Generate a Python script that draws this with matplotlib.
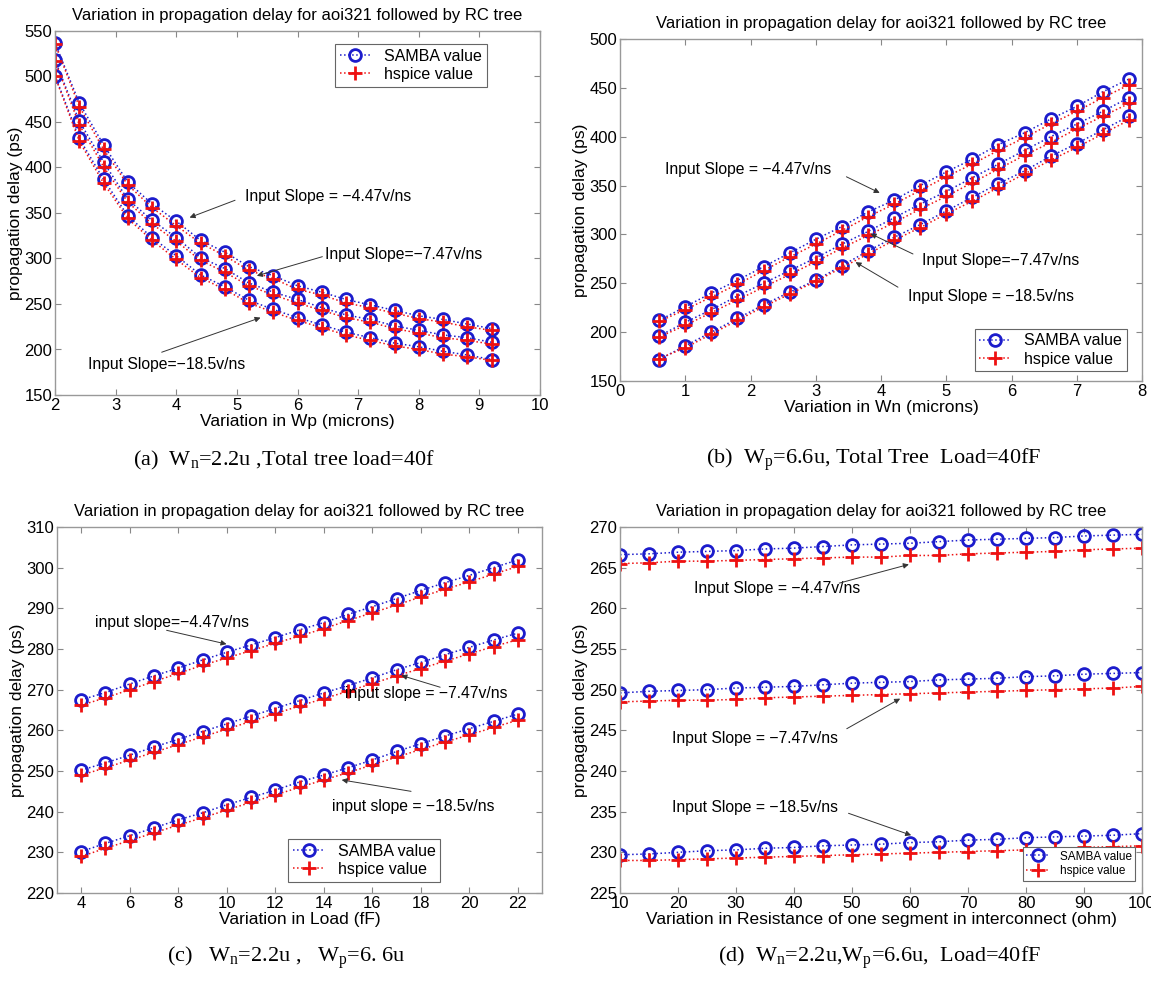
import matplotlib
matplotlib.use("Agg")
import matplotlib.pyplot as plt

plt.rcParams['font.family'] = ['Liberation Sans', 'DejaVu Sans']
plt.rcParams['mathtext.fontset'] = 'custom'
plt.rcParams['mathtext.rm'] = 'Liberation Serif'

TITLE = 'Variation in propagation delay for aoi321 followed by RC tree'

# (a) variation in Wp
wp = [2.0, 2.4, 2.8, 3.2, 3.6, 4.0, 4.4, 4.8, 5.2, 5.6, 6.0, 6.4, 6.8, 7.2, 7.6, 8.0, 8.4, 8.8, 9.2]
a_samba_447 = [537, 471, 425, 384, 360, 341, 320, 307, 291, 281, 270, 263, 255, 249, 243, 237, 233, 228, 223]
a_samba_747 = [518, 451, 406, 365, 342, 323, 301, 289, 273, 263, 255, 246, 238, 233, 226, 221, 216, 213, 208]
a_samba_185 = [501, 432, 387, 347, 323, 303, 282, 269, 254, 244, 235, 227, 219, 213, 207, 203, 198, 194, 189]
a_hspice_447 = [536, 467, 420, 381, 356, 336, 317, 303, 287, 278, 266, 260, 251, 246, 240, 234, 230, 225, 221]
a_hspice_747 = [517, 447, 401, 362, 338, 319, 298, 285, 270, 260, 251, 243, 235, 230, 223, 218, 213, 210, 206]
a_hspice_185 = [500, 429, 383, 344, 320, 299, 279, 266, 251, 241, 232, 224, 216, 210, 204, 200, 195, 192, 188]

# (b) variation in Wn
wn = [0.6, 1.0, 1.4, 1.8, 2.2, 2.6, 3.0, 3.4, 3.8, 4.2, 4.6, 5.0, 5.4, 5.8, 6.2, 6.6, 7.0, 7.4, 7.8]
b_samba_447 = [212, 226, 240, 253, 267, 281, 295, 308, 323, 335, 350, 364, 377, 392, 404, 418, 431, 446, 459]
b_samba_747 = [196, 210, 223, 237, 250, 263, 276, 290, 303, 317, 331, 344, 358, 372, 386, 400, 413, 426, 440]
b_samba_185 = [172, 186, 200, 214, 228, 241, 253, 268, 283, 297, 310, 324, 338, 352, 365, 380, 393, 407, 421]
b_hspice_447 = [211, 223, 236, 249, 263, 277, 290, 304, 318, 331, 345, 359, 372, 386, 399, 413, 426, 440, 453]
b_hspice_747 = [195, 207, 220, 233, 246, 259, 272, 286, 299, 312, 326, 339, 353, 367, 381, 394, 408, 421, 434]
b_hspice_185 = [173, 184, 198, 212, 226, 239, 252, 266, 280, 294, 307, 321, 334, 348, 362, 376, 389, 403, 417]

# (c) variation in load
load = [4, 5, 6, 7, 8, 9, 10, 11, 12, 13, 14, 15, 16, 17, 18, 19, 20, 21, 22]
c_samba_447 = [267.5, 269.3, 271.4, 273.4, 275.3, 277.3, 279.2, 281.0, 282.8, 284.7, 286.5, 288.5, 290.4, 292.4, 294.4, 296.3, 298.1, 300.0, 301.9]
c_samba_747 = [250.2, 252.0, 253.9, 255.9, 257.8, 259.7, 261.6, 263.5, 265.4, 267.3, 269.2, 271.0, 272.9, 274.9, 276.7, 278.6, 280.4, 282.2, 283.9]
c_samba_185 = [230.2, 232.2, 234.1, 236.0, 238.0, 239.7, 241.7, 243.5, 245.3, 247.3, 249.0, 250.8, 252.7, 254.8, 256.7, 258.6, 260.4, 262.2, 264.0]
c_hspice_447 = [266.2, 268.0, 270.0, 272.0, 274.0, 276.0, 277.8, 279.6, 281.4, 283.2, 285.0, 287.0, 288.9, 290.8, 292.8, 294.7, 296.5, 298.4, 300.3]
c_hspice_747 = [249.0, 250.8, 252.7, 254.6, 256.5, 258.4, 260.3, 262.2, 264.1, 266.0, 267.8, 269.6, 271.5, 273.4, 275.2, 277.0, 278.8, 280.6, 282.3]
c_hspice_185 = [229.0, 231.0, 232.9, 234.8, 236.7, 238.5, 240.4, 242.3, 244.1, 246.0, 247.8, 249.6, 251.5, 253.4, 255.3, 257.1, 258.9, 260.7, 262.5]

# (d) variation in segment resistance
res = [10, 15, 20, 25, 30, 35, 40, 45, 50, 55, 60, 65, 70, 75, 80, 85, 90, 95, 100]
d_samba_447 = [266.6, 266.7, 266.9, 267.0, 267.1, 267.3, 267.4, 267.6, 267.8, 267.9, 268.0, 268.2, 268.4, 268.5, 268.6, 268.7, 268.9, 269.0, 269.1]
d_samba_747 = [249.6, 249.8, 249.9, 250.0, 250.2, 250.3, 250.4, 250.6, 250.8, 250.9, 251.0, 251.2, 251.3, 251.4, 251.6, 251.7, 251.9, 252.0, 252.1]
d_samba_185 = [229.7, 229.8, 230.0, 230.2, 230.3, 230.5, 230.6, 230.8, 230.9, 231.0, 231.2, 231.3, 231.5, 231.6, 231.8, 231.9, 232.0, 232.1, 232.3]
d_hspice_447 = [265.5, 265.6, 265.8, 265.8, 265.9, 266.0, 266.1, 266.2, 266.3, 266.3, 266.5, 266.5, 266.7, 266.8, 266.9, 267.0, 267.2, 267.3, 267.4]
d_hspice_747 = [248.5, 248.6, 248.7, 248.7, 248.8, 249.0, 249.1, 249.2, 249.3, 249.4, 249.5, 249.6, 249.7, 249.8, 249.9, 250.0, 250.1, 250.2, 250.4]
d_hspice_185 = [229.0, 229.0, 229.1, 229.2, 229.3, 229.4, 229.5, 229.6, 229.7, 229.8, 229.9, 230.0, 230.1, 230.2, 230.3, 230.4, 230.6, 230.7, 230.8]

W, H = 1151, 988
fig = plt.figure(figsize=(W / 100, H / 100), dpi=100)


def make_axes(left, top, right, bottom):
    return fig.add_axes([left / W, 1 - bottom / H, (right - left) / W, (bottom - top) / H])


def panel(ax, x, samba, hspice, xlabel, xlim, xticks, ylim, yticks, notes, leg_loc, leg_anchor, leg_size=11.5):
    for i, (s, h) in enumerate(zip(samba, hspice)):
        ax.plot(x, s, ':', color='#1c1ccc', lw=1.1, marker='o', ms=8.5, mfc='none',
                mec='#1c1ccc', mew=2.0, label='SAMBA value' if i == 0 else None)
        ax.plot(x, h, ':', color='#ee1111', lw=1.1, marker='+', ms=10, mew=2.0,
                mec='#ee1111', label='hspice value' if i == 0 else None)
    ax.set_xlim(*xlim)
    ax.set_ylim(*ylim)
    ax.set_xticks(xticks)
    ax.set_yticks(yticks)
    ax.tick_params(direction='in', top=True, right=True, length=4, width=0.8,
                   color='#888888', labelsize=12, pad=2)
    for sp in ax.spines.values():
        sp.set_color('#999999')
        sp.set_linewidth(1.0)
    ax.set_title(TITLE, fontsize=12, pad=8)
    ax.set_xlabel(xlabel, fontsize=12.5, labelpad=1)
    ax.set_ylabel('propagation delay (ps)', fontsize=12.5, labelpad=1)
    for text, txy, tail, head in notes:
        ax.text(txy[0], txy[1], text, fontsize=11.3, ha='left', va='center')
        ax.annotate('', xy=head, xytext=tail,
                    arrowprops=dict(arrowstyle='-|>', color='#333333', lw=0.7,
                                    mutation_scale=8, shrinkA=0, shrinkB=0))
    leg = ax.legend(loc=leg_loc, bbox_to_anchor=leg_anchor, fontsize=leg_size,
                    fancybox=False, framealpha=1, edgecolor='#666666',
                    borderpad=0.3, handlelength=2.0, labelspacing=0.2)
    leg.get_frame().set_linewidth(0.8)


ax_a = make_axes(55, 31, 540, 395)
panel(ax_a, wp, [a_samba_447, a_samba_747, a_samba_185], [a_hspice_447, a_hspice_747, a_hspice_185],
      'Variation in Wp (microns)', (2, 10), range(2, 11), (150, 550), range(150, 551, 50),
      [('Input Slope = \u22124.47v/ns', (5.13, 368), (4.97, 364), (4.22, 345)),
       ('Input Slope=\u22127.47v/ns', (6.46, 304), (6.41, 302), (5.33, 281)),
       ('Input Slope=\u221218.5v/ns', (2.54, 184), (3.76, 197), (5.39, 235))],
      'upper right', (0.907, 0.986))

ax_b = make_axes(620, 39, 1142, 381)
panel(ax_b, wn, [b_samba_447, b_samba_747, b_samba_185], [b_hspice_447, b_hspice_747, b_hspice_185],
      'Variation in Wn (microns)', (0, 8), range(0, 9), (150, 500), range(150, 501, 50),
      [('Input Slope = \u22124.47v/ns', (0.69, 366), (3.47, 359), (3.98, 342.5)),
       ('Input Slope=\u22127.47v/ns', (4.63, 273), (4.49, 280), (3.84, 300.7)),
       ('Input Slope = \u221218.5v/ns', (4.42, 236), (4.26, 246), (3.61, 271.6))],
      'lower right', (0.986, 0.005))

ax_c = make_axes(57, 527, 542, 893)
panel(ax_c, load, [c_samba_447, c_samba_747, c_samba_185], [c_hspice_447, c_hspice_747, c_hspice_185],
      'Variation in Load (fF)', (3, 23), range(4, 23, 2), (220, 310), range(220, 311, 10),
      [('input slope=\u22124.47v/ns', (4.57, 286.5), (7.52, 284.6), (9.99, 281.2)),
       ('input slope = \u22127.47v/ns', (14.89, 269), (18.8, 270.6), (17.2, 273.5)),
       ('input slope = \u221218.5v/ns', (14.33, 241.3), (17.6, 245), (14.74, 247.8))],
      'lower left', (0.46, 0.009))

ax_d = make_axes(620, 527, 1142, 893)
panel(ax_d, res, [d_samba_447, d_samba_747, d_samba_185], [d_hspice_447, d_hspice_747, d_hspice_185],
      'Variation in Resistance of one segment in interconnect (ohm)', (10, 100), range(10, 101, 10),
      (225, 270), range(225, 271, 5),
      [('Input Slope = \u22124.47v/ns', (22.8, 262.4), (47.8, 263.1), (59.8, 265.4)),
       ('Input Slope = \u22127.47v/ns', (18.9, 244), (49.1, 245.2), (58.3, 248.9)),
       ('Input Slope = \u221218.5v/ns', (18.9, 235.5), (49.4, 234.8), (60.2, 232.1))],
      'lower right', (0.998, 0.018), leg_size=8.5)

captions = [
    (284, 460, r'(a)  W$_\mathrm{n}$=2.2u ,Total tree load=40f'),
    (874, 460, r'(b)  W$_\mathrm{p}$=6.6u, Total Tree  Load=40fF'),
    (286, 958, r'(c)   W$_\mathrm{n}$=2.2u ,   W$_\mathrm{p}$=6. 6u'),
    (879, 958, r'(d)  W$_\mathrm{n}$=2.2u,W$_\mathrm{p}$=6.6u,  Load=40fF'),
]
for cx, cy, txt in captions:
    fig.text(cx / W, 1 - cy / H, txt, ha='center', va='center', fontsize=16,
             family='Liberation Serif')

fig.savefig('out.png', dpi=100)
